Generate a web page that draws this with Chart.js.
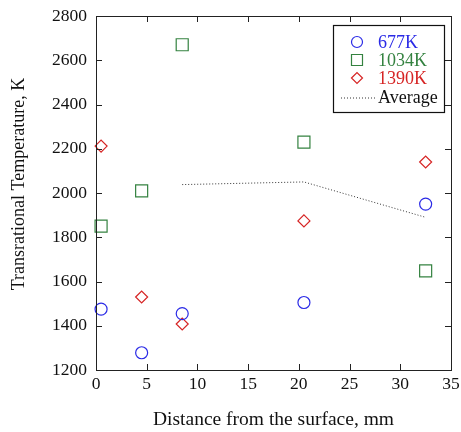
<!DOCTYPE html>
<html>
<head>
<meta charset="utf-8">
<script src="https://cdn.jsdelivr.net/npm/chart.js@4.4.1/dist/chart.umd.min.js"></script>
<style>
  html, body { margin: 0; padding: 0; background: #fff; }
  #wrap { width: 461px; height: 432px; }
</style>
</head>
<body>
<div id="wrap"><canvas id="scatterChart"></canvas></div>
<script>
// distance from the surface, mm
const distances = [0.5, 4.5, 8.5, 20.5, 32.5];
const temp677 = [1475, 1278, 1455, 1505, 1950];
const temp1034 = [1850, 2010, 2670, 2230, 1648];
const temp1390 = [2212, 1530, 1408, 1874, 2140];
const avgDistances = [8.5, 20.5, 32.5];
const avgTemps = [2038, 2050, 1890];
const xTicks = [0, 5, 10, 15, 20, 25, 30, 35];
const yTicks = [1200, 1400, 1600, 1800, 2000, 2200, 2400, 2600, 2800];

const serif = "'Liberation Serif', 'Times New Roman', serif";
const blue = '#2a2ae6', green = '#348240', red = '#d62424';

function pts(xs, ys) {
    return xs.map(function (v, i) { return { x: v, y: ys[i] }; });
}

// frame with inward ticks on all four sides
const frameTicks = {
    id: 'frameTicks',
    afterDraw(chart) {
        const ctx = chart.ctx, a = chart.chartArea;
        const x = chart.scales.x, y = chart.scales.y;
        ctx.save();
        ctx.strokeStyle = '#222';
        ctx.lineWidth = 1;
        ctx.strokeRect(Math.round(a.left) + 0.5, Math.round(a.top) + 0.5,
            Math.round(a.right - a.left), Math.round(a.bottom - a.top));
        ctx.beginPath();
        xTicks.forEach(function (v) {
            const px = Math.round(x.getPixelForValue(v)) + 0.5;
            ctx.moveTo(px, a.bottom); ctx.lineTo(px, a.bottom - 6);
            ctx.moveTo(px, a.top); ctx.lineTo(px, a.top + 6);
        });
        yTicks.forEach(function (v) {
            const py = Math.round(y.getPixelForValue(v)) + 0.5;
            ctx.moveTo(a.left, py); ctx.lineTo(a.left + 6, py);
            ctx.moveTo(a.right, py); ctx.lineTo(a.right - 6, py);
        });
        ctx.stroke();
        ctx.restore();
    }
};

// boxed legend in the top right corner
const boxLegend = {
    id: 'boxLegend',
    afterDraw(chart) {
        const ctx = chart.ctx;
        ctx.save();
        ctx.fillStyle = '#fff';
        ctx.fillRect(333.5, 25.5, 111, 87);
        ctx.strokeStyle = '#111';
        ctx.lineWidth = 1.2;
        ctx.strokeRect(333.5, 25.5, 111, 87);
        ctx.font = '18px ' + serif;
        ctx.textBaseline = 'middle';
        const sx = 357, tx = 378;
        const rows = [42, 60, 78, 97];
        chart.data.datasets.forEach(function (ds, i) {
            const cy = rows[i];
            ctx.strokeStyle = ds.borderColor;
            ctx.lineWidth = 1.2;
            ctx.beginPath();
            if (ds.pointStyle === 'circle') {
                ctx.arc(sx, cy, 5.5, 0, Math.PI * 2);
            } else if (ds.pointStyle === 'rect') {
                ctx.rect(sx - 5.5, cy - 5.5, 11, 11);
            } else if (ds.pointStyle === 'rectRot') {
                ctx.moveTo(sx - 5.5, cy); ctx.lineTo(sx, cy - 5.5);
                ctx.lineTo(sx + 5.5, cy); ctx.lineTo(sx, cy + 5.5);
                ctx.closePath();
            } else {
                ctx.setLineDash([1, 2]);
                ctx.lineWidth = 1;
                ctx.moveTo(341, cy + 1); ctx.lineTo(375, cy + 1);
            }
            ctx.stroke();
            ctx.setLineDash([]);
            ctx.fillStyle = ds.legendColor;
            ctx.fillText(ds.label, tx, cy + 1);
        });
        ctx.restore();
    }
};

const tickFont = { family: serif, size: 17.5 };

new Chart(document.getElementById('scatterChart'), {
    type: 'scatter',
    data: {
        datasets: [
            {
                label: '677K', data: pts(distances, temp677),
                pointStyle: 'circle', pointRadius: 6, pointHoverRadius: 6,
                borderColor: blue, backgroundColor: 'rgba(0,0,0,0)', borderWidth: 1.2,
                legendColor: blue, clip: false
            },
            {
                label: '1034K', data: pts(distances, temp1034),
                pointStyle: 'rect', pointRadius: 8.5, pointHoverRadius: 8.5,
                borderColor: green, backgroundColor: 'rgba(0,0,0,0)', borderWidth: 1.2,
                legendColor: green, clip: false
            },
            {
                label: '1390K', data: pts(distances, temp1390),
                pointStyle: 'rectRot', pointRadius: 6, pointHoverRadius: 6,
                borderColor: red, backgroundColor: 'rgba(0,0,0,0)', borderWidth: 1.2,
                legendColor: red, clip: false
            },
            {
                label: 'Average', data: pts(avgDistances, avgTemps),
                type: 'line', showLine: true, pointRadius: 0,
                borderColor: '#333', borderWidth: 1, borderDash: [1, 2],
                fill: false, legendColor: '#111'
            }
        ]
    },
    options: {
        responsive: true,
        maintainAspectRatio: false,
        animation: false,
        layout: { padding: { top: 16, right: 10, left: 0, bottom: 0 } },
        plugins: {
            legend: { display: false },
            tooltip: { enabled: false }
        },
        scales: {
            x: {
                type: 'linear', min: 0, max: 35,
                afterFit: function (s) { s.height = 62; s.paddingLeft = 0; s.paddingRight = 0; },
                afterBuildTicks: function (s) { s.ticks = xTicks.map(function (v) { return { value: v }; }); },
                grid: { display: false, drawTicks: false },
                border: { display: false },
                ticks: { color: '#111', font: tickFont, padding: 4, maxRotation: 0,
                    callback: function (v) { return String(v); } },
                title: {
                    display: true, text: 'Distance from the surface, mm',
                    color: '#111', font: { family: serif, size: 19.5 }, padding: { top: 0, bottom: 0 }
                }
            },
            y: {
                type: 'linear', min: 1200, max: 2800,
                afterFit: function (s) { s.width = 96; s.paddingTop = 0; s.paddingBottom = 0; },
                afterBuildTicks: function (s) { s.ticks = yTicks.map(function (v) { return { value: v }; }); },
                grid: { display: false, drawTicks: false },
                border: { display: false },
                ticks: { color: '#111', font: tickFont, padding: 9,
                    callback: function (v) { return String(v); } },
                title: {
                    display: true, text: '    Transrational Temperature, K',
                    color: '#111', font: { family: serif, size: 18 }, padding: { top: 8, bottom: 0 }
                }
            }
        }
    },
    plugins: [frameTicks, boxLegend]
});
</script>
</body>
</html>
